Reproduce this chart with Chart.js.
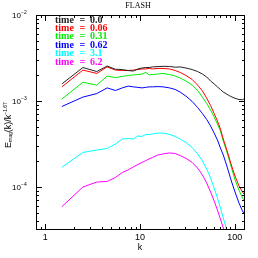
<!DOCTYPE html>
<html>
<head>
<meta charset="utf-8">
<script src="https://cdn.jsdelivr.net/npm/chart.js@4"></script>
<style>
  html, body { margin: 0; padding: 0; background: #fff; }
  #chart { display: block; }
</style>
</head>
<body>
<canvas id="chart" width="258" height="258"></canvas>
<script>
// wavenumbers k
const kVals = [1.5,2.5,3.5,4.5,5.5,6.5,7.5,8.5,9.5,10.5,11.5,12.5,13.5,15.5,17.5,20.5,23.5,26.5,30.5,35.5,
  40.5,45.5,50.5,55.5,60.5,65.5,70.5,75.5,80.5,85.5,90.5,95.5,100.5,110.5,120.5,127.5];

const t00 = [1.58e-3,2.45e-3,2.20e-3,2.55e-3,2.34e-3,2.32e-3,2.26e-3,2.23e-3,2.36e-3,2.42e-3,2.45e-3,2.45e-3,2.49e-3,2.51e-3,2.53e-3,2.52e-3,2.47e-3,2.49e-3,2.42e-3,2.32e-3,
  2.20e-3,2.06e-3,1.90e-3,1.71e-3,1.58e-3,1.46e-3,1.36e-3,1.27e-3,1.22e-3,1.17e-3,1.13e-3,1.10e-3,1.075e-3,1.04e-3,1.035e-3,1.07e-3];
const t006 = [1.46e-3,2.29e-3,2.09e-3,2.49e-3,2.29e-3,2.26e-3,2.26e-3,2.29e-3,2.32e-3,2.36e-3,2.36e-3,2.39e-3,2.36e-3,2.39e-3,2.39e-3,2.36e-3,2.26e-3,2.15e-3,1.98e-3,1.78e-3,
  1.53e-3,1.31e-3,1.08e-3,8.86e-4,7.16e-4,5.86e-4,4.73e-4,3.61e-4,2.92e-4,2.36e-4,1.90e-4,1.58e-4,1.34e-4,1.03e-4,8.75e-5,8.07e-5];
const t031 = [1.055e-3,1.65e-3,1.53e-3,1.95e-3,1.87e-3,1.93e-3,1.98e-3,2.01e-3,2.03e-3,2.06e-3,2.15e-3,2.01e-3,2.03e-3,2.06e-3,2.09e-3,2.03e-3,1.95e-3,1.85e-3,1.71e-3,1.53e-3,
  1.325e-3,1.11e-3,9.35e-4,7.86e-4,6.52e-4,5.40e-4,4.48e-4,3.43e-4,2.77e-4,2.23e-4,1.80e-4,1.46e-4,1.21e-4,9.23e-5,7.45e-5,6.88e-5];
const t062 = [8.63e-4,1.11e-3,1.22e-3,1.42e-3,1.325e-3,1.42e-3,1.49e-3,1.46e-3,1.44e-3,1.42e-3,1.44e-3,1.46e-3,1.46e-3,1.47e-3,1.46e-3,1.42e-3,1.36e-3,1.27e-3,1.14e-3,9.87e-4,
  8.40e-4,7.16e-4,6.09e-4,5.12e-4,4.24e-4,3.52e-4,2.84e-4,2.36e-4,1.90e-4,1.535e-4,1.24e-4,1.03e-4,8.75e-5,6.52e-5,5.26e-5,4.73e-5];
const t31 = [1.695e-4,2.52e-4,2.69e-4,2.80e-4,3.16e-4,3.61e-4,3.66e-4,3.61e-4,3.92e-4,3.87e-4,4.08e-4,4.08e-4,4.13e-4,4.24e-4,4.24e-4,4.08e-4,3.87e-4,3.61e-4,3.29e-4,2.88e-4,
  2.42e-4,2.01e-4,1.62e-4,1.27e-4,9.73e-5,7.45e-5,5.70e-5,4.36e-5,3.43e-5,2.69e-5,2.12e-5];
const t62 = [5.90e-5,1.00e-4,1.14e-4,1.16e-4,1.29e-4,1.47e-4,1.58e-4,1.71e-4,1.83e-4,1.93e-4,2.03e-4,2.12e-4,2.20e-4,2.36e-4,2.42e-4,2.49e-4,2.45e-4,2.32e-4,2.15e-4,1.93e-4,
  1.66e-4,1.38e-4,1.11e-4,8.75e-5,6.88e-5,5.40e-5,4.24e-5,3.34e-5,2.62e-5];

const times = ['0.0','0.06','0.31','0.62','3.1','6.2'];
const seriesData = [t00, t006, t031, t062, t31, t62];
const seriesColors = ['#222222','#ff0000','#00ee00','#0000ff','#00ffff','#ff00ff'];

const xMajor = [1, 10, 100];
const xLabels = ['1', '10', '100'];
const yMajor = [1e-4, 1e-3, 1e-2];
const yExp = ['\u22124', '\u22123', '\u22122'];

const decoPlugin = {
  id: 'deco',
  afterDraw(chart) {
    const ctx = chart.ctx;
    const a = chart.chartArea;
    const xs = chart.scales.x, ys = chart.scales.y;
    ctx.save();
    ctx.strokeStyle = '#000';
    ctx.lineWidth = 1;
    ctx.strokeRect(Math.round(a.left) + 0.5, Math.round(a.top) + 0.5,
      Math.round(a.right - a.left) - 1, Math.round(a.bottom - a.top) - 1);

    // x ticks, top and bottom, inward
    ctx.beginPath();
    for (let d = 0.1; d < 1000; d *= 10) {
      for (let m = 1; m < 10; m++) {
        const v = d * m;
        if (v < xs.min || v > xs.max) continue;
        const px = Math.round(xs.getPixelForValue(v)) + 0.5;
        const len = m === 1 ? 6 : 3;
        ctx.moveTo(px, a.bottom); ctx.lineTo(px, a.bottom - len);
        ctx.moveTo(px, a.top); ctx.lineTo(px, a.top + len);
      }
    }
    // y ticks, left and right, inward
    for (let d = 1e-5; d < 0.1; d *= 10) {
      for (let m = 1; m < 10; m++) {
        const v = d * m;
        if (v < ys.min * 0.999 || v > ys.max * 1.001) continue;
        const py = Math.round(ys.getPixelForValue(v)) + 0.5;
        const len = m === 1 ? 6 : 3;
        ctx.moveTo(a.left, py); ctx.lineTo(a.left + len, py);
        ctx.moveTo(a.right, py); ctx.lineTo(a.right - len, py);
      }
    }
    ctx.stroke();

    ctx.fillStyle = '#000';
    ctx.font = '9px "Liberation Sans", sans-serif';
    ctx.textAlign = 'center';
    ctx.textBaseline = 'middle';
    xMajor.forEach((v, i) => {
      ctx.fillText(xLabels[i], xs.getPixelForValue(v), a.bottom + 8);
    });
    ctx.fillText('k', 140, a.bottom + 18);

    yMajor.forEach((v, i) => {
      const py = ys.getPixelForValue(v);
      ctx.font = '5px "Liberation Sans", sans-serif';
      ctx.textAlign = 'left';
      ctx.fillText(yExp[i], 21, py - 2);
      ctx.font = '8px "Liberation Sans", sans-serif';
      ctx.textAlign = 'right';
      ctx.fillText('10', 21, py + 1);
    });

    // y axis title, rotated
    ctx.save();
    ctx.translate(9, 148);
    ctx.rotate(-Math.PI / 2);
    ctx.textAlign = 'left';
    ctx.textBaseline = 'middle';
    let x = 0;
    const part = (txt, size, dy) => {
      ctx.font = size + 'px "Liberation Sans", sans-serif';
      ctx.fillText(txt, x, dy);
      x += ctx.measureText(txt).width;
    };
    part('E', 9, 0);
    part('mag', 5, 2);
    part('(k)/k', 9, 0);
    part('\u22121.67', 5, -3);
    ctx.restore();

    ctx.font = '8px "Liberation Serif", serif';
    ctx.textAlign = 'center';
    ctx.fillText('FLASH', 138, 6);

    // legend text: "time = value"
    ctx.font = 'bold 10px "Liberation Serif", serif';
    ctx.textAlign = 'left';
    times.forEach((t, i) => {
      const y = 20 + i * 8.4;
      ctx.fillStyle = seriesColors[i];
      ctx.fillText('time', 55, y);
      ctx.fillText('=', 79.5, y);
      ctx.fillText(t, 90, y);
    });
    ctx.restore();
  }
};

new Chart(document.getElementById('chart'), {
  type: 'line',
  data: {
    datasets: seriesData.map((vals, i) => ({
      label: 'time = ' + times[i],
      data: vals.map((v, j) => ({ x: kVals[j], y: v })),
      borderColor: seriesColors[i],
      borderWidth: 1,
      pointRadius: 0,
      fill: false,
      tension: 0
    }))
  },
  options: {
    responsive: false,
    devicePixelRatio: 1,
    animation: false,
    layout: { padding: { left: 36, right: 13, top: 15, bottom: 28 } },
    plugins: { legend: { display: false }, tooltip: { enabled: false } },
    scales: {
      x: { type: 'logarithmic', min: 0.8, max: 128, display: false },
      y: { type: 'logarithmic', min: 3.16e-5, max: 1e-2, display: false }
    }
  },
  plugins: [decoPlugin]
});
</script>
</body>
</html>
